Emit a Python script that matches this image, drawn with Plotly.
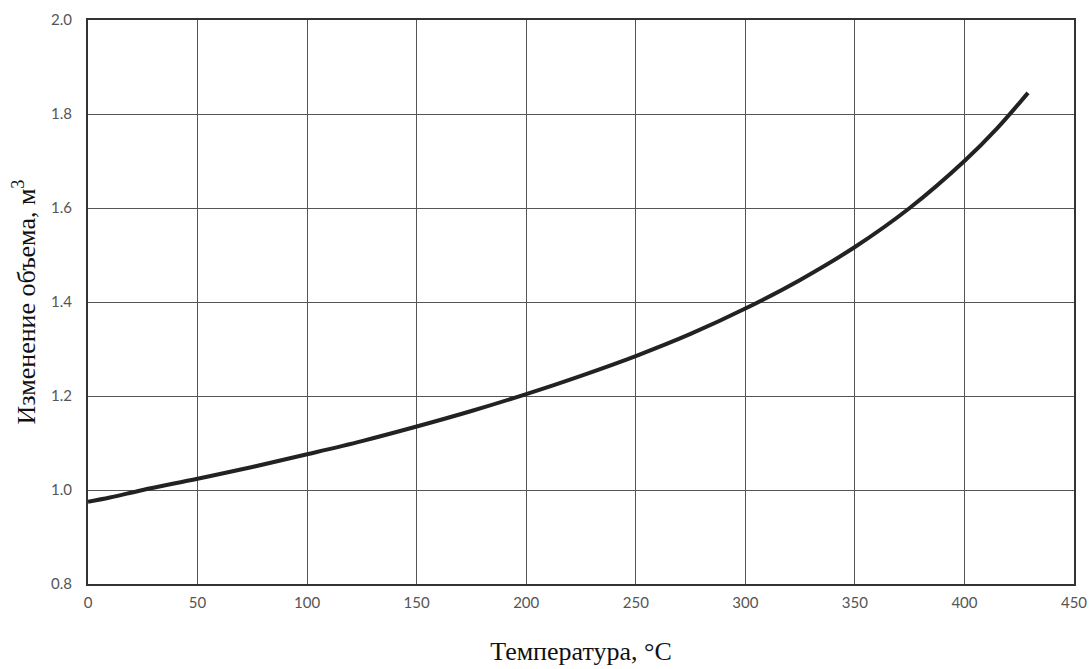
import plotly.graph_objects as go

temperature = [0, 10, 25, 50, 75, 100, 125, 150, 175, 200, 225, 250, 275, 300, 325, 350, 375, 400, 415, 429]
volume = [0.975, 0.984, 1.0, 1.024, 1.049, 1.076, 1.104, 1.135, 1.168, 1.204, 1.243, 1.285, 1.332, 1.386, 1.447, 1.517, 1.600, 1.700, 1.770, 1.845]

x_ticks = [0, 50, 100, 150, 200, 250, 300, 350, 400, 450]
y_ticks = [0.8, 1.0, 1.2, 1.4, 1.6, 1.8, 2.0]

fig = go.Figure()
fig.add_trace(go.Scatter(x=temperature, y=volume, mode="lines",
                         line=dict(color="#222222", width=4, shape="spline"),
                         showlegend=False, hoverinfo="skip"))

fig.update_layout(
    width=1092, height=669,
    margin=dict(l=88, r=18, t=20, b=85),
    paper_bgcolor="white", plot_bgcolor="white",
    font=dict(family="Liberation Serif", color="#111111"),
)
fig.update_xaxes(
    range=[0, 450], tickvals=x_ticks, ticktext=[str(v) for v in x_ticks],
    showgrid=True, gridcolor="#555555", gridwidth=1,
    showline=True, linecolor="#333333", linewidth=2, mirror=True,
    ticks="outside", ticklen=4, tickcolor="rgba(0,0,0,0)", zeroline=False, automargin=False,
    tickfont=dict(family="Lato", size=15, color="#555555"),
    title=dict(text="Температура, °C", font=dict(family="Liberation Serif", size=26, color="#111111"), standoff=32),
)
fig.update_yaxes(
    range=[0.8, 2.0], tickvals=y_ticks, ticktext=[f"{v:.1f}" for v in y_ticks],
    showgrid=True, gridcolor="#555555", gridwidth=1,
    showline=True, linecolor="#333333", linewidth=2, mirror=True,
    ticks="outside", ticklen=11, tickcolor="rgba(0,0,0,0)", zeroline=False, automargin=False,
    tickfont=dict(family="Lato", size=15, color="#555555"),
    title=dict(text="Изменение объема, м<sup>3</sup>", font=dict(family="Liberation Serif", size=26, color="#111111"), standoff=8),
)

fig.write_html("out.html", config={"displayModeBar": False},
               post_script="document.body.style.margin='0';document.body.style.overflow='hidden';")
